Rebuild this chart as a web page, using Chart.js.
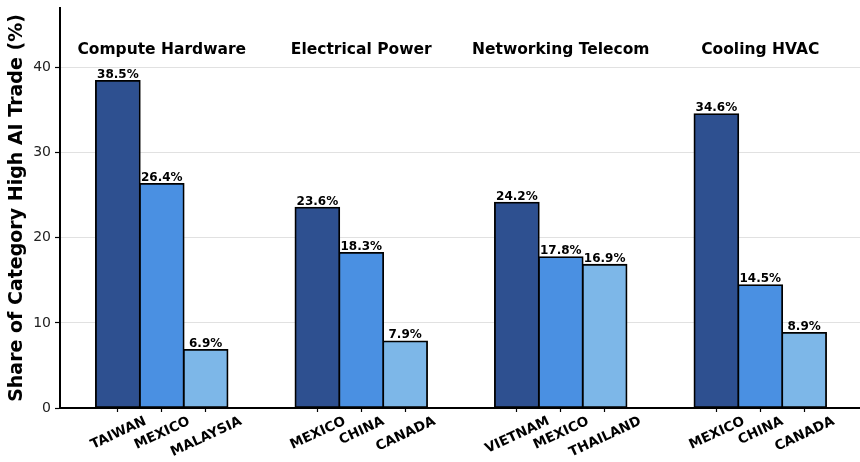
<!DOCTYPE html>
<html>
<head>
<meta charset="utf-8">
<script src="https://cdn.jsdelivr.net/npm/chart.js@4"></script>
<style>
  html, body { margin: 0; padding: 0; background: #fff; }
  #chart { display: block; }
</style>
</head>
<body>
<canvas id="chart" width="860" height="462"></canvas>
<script>
const groups = ['Compute Hardware', 'Electrical Power', 'Networking Telecom', 'Cooling HVAC'];
const countries = [
  ['TAIWAN', 'MEXICO', 'MALAYSIA'],
  ['MEXICO', 'CHINA', 'CANADA'],
  ['VIETNAM', 'MEXICO', 'THAILAND'],
  ['MEXICO', 'CHINA', 'CANADA']
];
const shares = [
  [38.5, 26.4, 6.9],
  [23.6, 18.3, 7.9],
  [24.2, 17.8, 16.9],
  [34.6, 14.5, 8.9]
];
const yTicks = [0, 10, 20, 30, 40];
const rankColors = ['#2e5090', '#4a90e2', '#7db7e8'];

const barOffset = 0.22;
const FONT = "'DejaVu Sans', sans-serif";

// one dataset per rank, bars placed around each group index
const datasets = [0, 1, 2].map(r => ({
  data: shares.map((s, g) => ({ x: g + (r - 1) * barOffset, y: s[r] })),
  backgroundColor: rankColors[r],
  borderColor: '#000',
  borderWidth: 1.8,
  borderSkipped: false,
  barThickness: 45,
  grouped: false
}));

const tickPos = [];
const tickText = [];
shares.forEach((s, g) => {
  s.forEach((v, r) => {
    tickPos.push(g + (r - 1) * barOffset);
    tickText.push(countries[g][r]);
  });
});

const labelsPlugin = {
  id: 'labels',
  afterDatasetsDraw(chart) {
    const ctx = chart.ctx;
    const xs = chart.scales.x;
    const ys = chart.scales.y;
    ctx.save();
    ctx.fillStyle = '#000';

    // value labels
    ctx.font = `bold 12px ${FONT}`;
    ctx.textAlign = 'center';
    ctx.textBaseline = 'alphabetic';
    shares.forEach((s, g) => {
      s.forEach((v, r) => {
        const x = xs.getPixelForValue(g + (r - 1) * barOffset);
        const y = ys.getPixelForValue(v);
        ctx.fillText(v.toFixed(1) + '%', x, y - 2.5);
      });
    });

    // group titles
    ctx.font = `bold 15.5px ${FONT}`;
    ctx.textBaseline = 'middle';
    groups.forEach((t, g) => {
      ctx.fillText(t, xs.getPixelForValue(g), ys.getPixelForValue(42.1));
    });

    // rotated country labels, centred under each tick
    const ang = 25 * Math.PI / 180;
    const capH = 9.8;
    const top = xs.top + 7;
    ctx.font = `bold 13.5px ${FONT}`;
    ctx.textBaseline = 'alphabetic';
    tickPos.forEach((p, i) => {
      const w = ctx.measureText(tickText[i]).width;
      const cy = top + (w * Math.sin(ang) + capH * Math.cos(ang)) / 2;
      ctx.save();
      ctx.translate(xs.getPixelForValue(p), cy);
      ctx.rotate(-ang);
      ctx.fillText(tickText[i], 0, capH / 2);
      ctx.restore();
    });
    ctx.restore();
  }
};

new Chart(document.getElementById('chart'), {
  type: 'bar',
  data: { datasets },
  plugins: [labelsPlugin],
  options: {
    responsive: false,
    animation: false,
    layout: { padding: { top: 8, right: 0, left: 0, bottom: 0 } },
    plugins: { legend: { display: false }, tooltip: { enabled: false } },
    scales: {
      x: {
        type: 'linear',
        offset: false,
        min: -0.51,
        max: 3.5,
        afterBuildTicks: scale => { scale.ticks = tickPos.map(v => ({ value: v })); },
        afterFit: scale => { scale.height = 54; },
        ticks: { display: false },
        grid: {
          display: true,
          offset: false,
          drawOnChartArea: false,
          drawTicks: true,
          tickLength: 4,
          tickColor: '#000',
          tickWidth: 1.2
        },
        border: { display: true, color: '#000', width: 2 }
      },
      y: {
        min: 0,
        max: 47,
        afterBuildTicks: scale => { scale.ticks = yTicks.map(v => ({ value: v })); },
        afterFit: scale => {
          scale.width = 60;
          scale.paddingTop = 0;
          scale.paddingBottom = 0;
        },
        ticks: {
          color: '#222',
          font: { family: FONT, size: 14 },
          padding: 4
        },
        grid: {
          color: 'rgba(0,0,0,0.15)',
          lineWidth: 0.8,
          borderDash: [4, 3],
          tickLength: 5,
          tickColor: '#000',
          tickWidth: 1.2,
          tickBorderDash: []
        },
        border: { display: true, color: '#000', width: 2 },
        title: {
          display: true,
          text: 'Share of Category High AI Trade (%)',
          color: '#000',
          font: { family: FONT, size: 19, weight: 'bold' },
          padding: { top: 6, bottom: 0 }
        }
      }
    }
  }
});
</script>
</body>
</html>
